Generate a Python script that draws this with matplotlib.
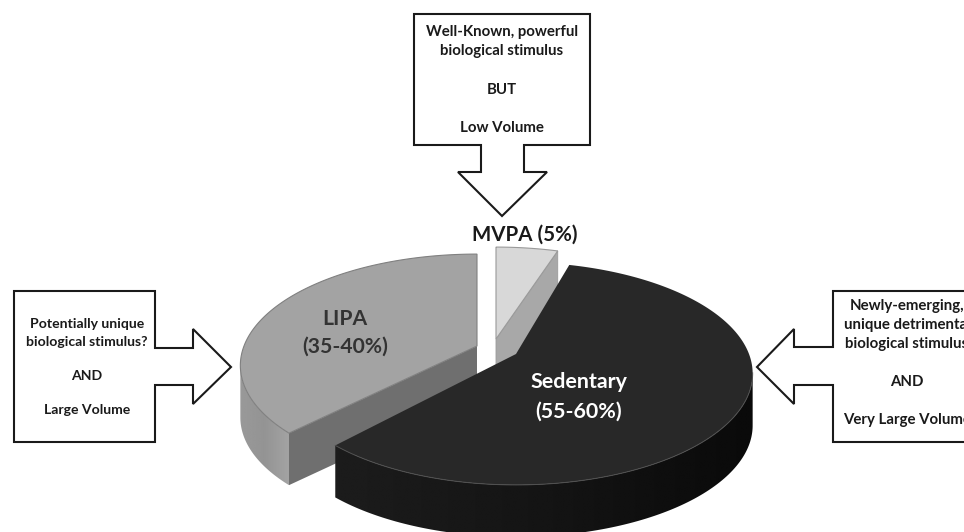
#!/usr/bin/env python3
"""Share of the waking day by activity intensity, as an exploded perspective pie with callouts."""
import numpy as np
import matplotlib
matplotlib.use("Agg")
import matplotlib.pyplot as plt
from matplotlib.patches import Polygon

plt.rcParams["font.family"] = ["Lato", "DejaVu Sans"]

# slices, clockwise from the top
names = ["MVPA", "Sedentary", "LIPA"]
share_low = [5, 55, 35]
share_high = [5, 60, 40]
labels = ["MVPA (5%)", "Sedentary\n(55-60%)", "LIPA\n(35-40%)"]

top_note = "Well-Known, powerful\nbiological stimulus\n\nBUT\n\nLow Volume"
left_note = "Potentially unique\nbiological stimulus?\n\nAND\n\nLarge Volume"
right_note = "Newly-emerging,\nunique detrimental\nbiological stimulus\n\nAND\n\nVery Large Volume"

W, H = 964, 532
A, B, K = 233.0, 108.0, 0.175     # disk half width, half height, perspective strength
DEPTH = 52.0

# where each slice starts on the rim and where its apex lands once pulled out
start = {"MVPA": 90.0, "Sedentary": 74.5, "LIPA": 225.0}
apex = {"MVPA": (496, 339), "Sedentary": (516, 354), "LIPA": (477, 346)}
top_col = {"MVPA": "#d8d8d8", "Sedentary": "#282828", "LIPA": "#a3a3a3"}
cut_col = {"MVPA": "#a8a8a8", "LIPA": "#6f6f6f"}
edge_col = {"MVPA": "#9a9a9a", "Sedentary": "#505050", "LIPA": "#808080"}

def project(deg, c):
    t = np.radians(deg); u, v = np.cos(t), np.sin(t); w = 1 + K*v
    return np.column_stack([c[0] + A*u/w, c[1] - B*v/w])

def poly(ax, pts, fc, ec="none", lw=0, z=2):
    p = Polygon(pts, closed=True, fc=fc, ec=ec, lw=lw, zorder=z, joinstyle="miter")
    ax.add_patch(p)
    return p

def wall(ax, rim, shade, z):
    # outer wall: a left-to-right grey ramp clipped to the strip under the rim
    band = np.vstack([rim, rim[::-1]+[0, DEPTH]])
    x0, x1 = band[:, 0].min(), band[:, 0].max(); y0, y1 = band[:, 1].min(), band[:, 1].max()
    ramp = np.interp(np.linspace(0, 1, 256), [0, .5, 1], shade)[None, :]
    im = ax.imshow(ramp, cmap="gray", vmin=0, vmax=1, extent=[x0, x1, y1, y0], aspect="auto", zorder=z, interpolation="bilinear")
    im.set_clip_path(poly(ax, band, "none", z=z))
    ax.set_xlim(0, W); ax.set_ylim(H, 0)

def callout(ax, pts):
    ax.add_patch(Polygon(pts, closed=True, fc="white", ec="#1a1a1a", lw=1.5, zorder=5, joinstyle="miter"))

mid = [(a+b)/2 for a, b in zip(share_low, share_high)]
sweep = {n: m/sum(mid)*360 for n, m in zip(names, mid)}
arcs = {n: np.linspace(start[n], start[n]-sweep[n], 200) for n in names}

fig = plt.figure(figsize=(W/100, H/100), dpi=100)
ax = fig.add_axes([0, 0, 1, 1]); ax.set_xlim(0, W); ax.set_ylim(H, 0); ax.axis("off")

# LIPA: wall and cut face first, the sedentary slice overlaps them
c = np.array(apex["LIPA"], float); rim = project(arcs["LIPA"], c)
wall(ax, rim[:np.argmin(rim[:, 0])+1], (0.60, 0.58, 0.64), 1)
corner = rim[0]
poly(ax, [c, corner, corner+[0, DEPTH], c+[0, DEPTH]], cut_col["LIPA"], z=2)
poly(ax, np.vstack([c, rim]), top_col["LIPA"], ec=edge_col["LIPA"], lw=0.8, z=3)

# MVPA wedge
c = np.array(apex["MVPA"], float); rim = project(arcs["MVPA"], c)
corner = rim[-1]
poly(ax, [c, corner, corner+[0, DEPTH], c+[0, DEPTH]], cut_col["MVPA"], ec=edge_col["MVPA"], lw=0.6, z=2)
poly(ax, np.vstack([c, rim]), top_col["MVPA"], ec=edge_col["MVPA"], lw=0.8, z=3)

# sedentary slice sits in front of everything
c = np.array(apex["Sedentary"], float); rim = project(arcs["Sedentary"], c)
right_i = np.argmax(rim[:, 0])
wall(ax, rim[right_i:], (0.11, 0.08, 0.04), 4)
poly(ax, np.vstack([c, rim]), top_col["Sedentary"], z=4)
ax.plot(rim[right_i:, 0], rim[right_i:, 1], color=edge_col["Sedentary"], lw=0.7, zorder=4)

# callout arrows, each box drawn with its pointer as one outline
callout(ax, [(414, 14), (590, 14), (590, 145), (524, 145), (524, 172), (547, 172), (502, 216), (458, 172), (481, 172), (481, 145), (414, 145)])
callout(ax, [(14, 291), (155, 291), (155, 348), (193, 348), (193, 329), (231, 367), (193, 404), (193, 385), (155, 385), (155, 442), (14, 442)])
callout(ax, [(975, 291), (833, 291), (833, 347), (794, 347), (794, 329), (757, 367), (794, 404), (794, 385), (833, 385), (833, 442), (975, 442)])

note = dict(ha="center", va="center", fontweight="bold", color="#1a1a1a", zorder=6, clip_on=True)
ax.text(502, 80, top_note, fontsize=10.8, linespacing=1.47, **note)
ax.text(87, 367, left_note, fontsize=10.1, linespacing=1.50, **note)
ax.text(907, 363, right_note, fontsize=10.8, linespacing=1.44, **note)

big = dict(ha="center", va="center", fontweight="bold", zorder=7)
ax.text(525, 235, labels[0], fontsize=14.8, color="#1a1a1a", **big)
ax.text(579, 397, labels[1], fontsize=15.4, color="white", linespacing=1.58, **big)
ax.text(345, 333, labels[2], fontsize=15.2, color="#333333", linespacing=1.47, **big)

fig.savefig("out.png", dpi=100)
